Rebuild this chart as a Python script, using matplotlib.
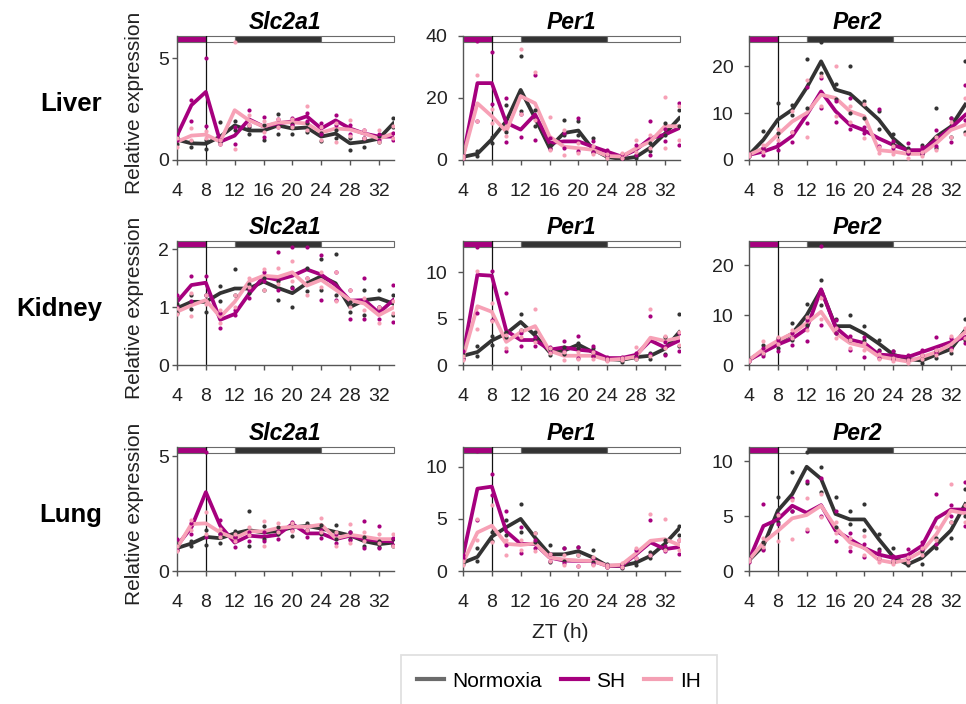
import matplotlib
matplotlib.use("Agg")
import matplotlib.pyplot as plt
from matplotlib.lines import Line2D
from matplotlib.patches import Rectangle

plt.rcParams["font.family"] = ["Liberation Sans", "DejaVu Sans"]

zt = list(range(4, 35, 2))
tissues = ["Liver", "Kidney", "Lung"]
genes = ["Slc2a1", "Per1", "Per2"]
groups = ["Normoxia", "SH", "IH"]
x_ticks = [4, 8, 12, 16, 20, 24, 28, 32]

# ---- Liver ----
liver_slc2a1_norm = [1.0, 0.82, 0.8, 1.15, 1.7, 1.45, 1.45, 1.7, 1.55, 1.6, 1.15, 1.3, 0.82, 0.9, 1.05, 1.8]
liver_slc2a1_norm_reps = [(0.8, 1.15), (0.62, 0.95), (0.55, 1.0), (0.9, 1.85), (1.5, 1.9), (1.3, 1.6), (1.0, 1.7), (1.28, 2.25),
                          (1.3, 1.75), (1.4, 1.8), (0.95, 1.35), (1.1, 1.5), (0.48, 1.1), (0.62, 1.1), (0.9, 1.2), (1.6, 2.05)]
liver_slc2a1_sh = [1.2, 2.7, 3.35, 0.9, 1.2, 2.0, 1.65, 1.8, 1.9, 2.15, 1.55, 1.95, 1.55, 1.3, 1.15, 1.15]
liver_slc2a1_sh_reps = [(1.0, 1.3), (1.9, 2.95), (1.67, 5.0), (0.8, 1.0), (0.78, 1.6), (1.7, 2.45), (1.15, 2.1), (1.6, 2.0),
                        (1.7, 2.05), (1.9, 2.3), (1.3, 1.8), (1.7, 2.2), (1.3, 1.7), (1.1, 1.5), (1.0, 1.3), (1.0, 1.35)]
liver_slc2a1_ih = [0.9, 1.2, 1.25, 0.9, 2.45, 1.95, 1.65, 1.85, 1.85, 1.8, 1.35, 1.55, 1.5, 1.3, 1.05, 1.3]
liver_slc2a1_ih_reps = [(0.65, 1.1), (1.0, 1.55), (1.1, 1.45), (0.8, 1.0), (0.52, 5.8), (1.7, 2.2), (1.4, 1.9), (1.6, 2.0),
                        (1.6, 2.0), (1.5, 2.65), (1.0, 1.6), (0.9, 1.8), (1.2, 1.95), (1.1, 1.5), (0.9, 1.5), (1.1, 1.65)]

liver_per1_norm = [1.0, 2.0, 6.7, 12.5, 22.6, 13.5, 4.0, 8.7, 9.5, 3.5, 1.0, 0.3, 1.0, 4.0, 8.5, 13.5]
liver_per1_norm_reps = [(0.8, 1.2), (1.2, 3.0), (5.5, 7.5), (9.0, 17.9), (15.8, 33.5), (11.0, 16.0), (3.8, 5.0), (8.0, 13.0),
                        (8.0, 12.5), (2.5, 7.1), (0.6, 1.5), (0.1, 0.5), (0.5, 1.5), (3.0, 5.5), (8.2, 12.0), (11.0, 16.0)]
liver_per1_sh = [1.0, 24.8, 24.8, 12.0, 9.8, 14.7, 5.5, 6.0, 6.0, 4.3, 2.7, 1.1, 3.3, 7.0, 8.2, 10.3]
liver_per1_sh_reps = [(0.8, 1.2), (12.5, 38.3), (18.0, 34.8), (5.7, 20.1), (7.4, 15.0), (6.5, 27.4), (3.5, 7.0), (4.0, 8.7),
                      (3.0, 13.4), (2.5, 6.0), (1.5, 3.3), (0.5, 1.8), (1.6, 5.0), (1.5, 12.5), (6.0, 10.0), (5.0, 18.5)]
liver_per1_ih = [1.0, 18.3, 14.1, 9.2, 20.6, 18.3, 7.6, 4.3, 3.8, 3.3, 1.3, 1.1, 3.8, 6.0, 10.9, 10.9]
liver_per1_ih_reps = [(0.8, 1.2), (12.5, 27.4), (12.0, 16.3), (7.6, 11.0), (14.7, 35.7), (13.0, 28.5), (3.3, 13.9), (1.6, 9.8),
                      (2.2, 5.4), (2.0, 4.5), (0.5, 2.0), (0.5, 2.2), (2.7, 6.5), (4.0, 8.0), (3.8, 20.4), (6.5, 17.4)]

liver_per2_norm = [1.1, 4.3, 8.6, 10.7, 15.4, 21.0, 15.0, 14.1, 11.4, 8.6, 4.6, 2.0, 1.8, 5.0, 7.1, 11.8]
liver_per2_norm_reps = [(0.9, 1.3), (2.5, 6.1), (5.7, 12.1), (9.5, 11.8), (11.1, 21.4), (18.6, 25.1), (13.0, 16.1), (10.0, 20.1),
                        (9.0, 12.5), (6.5, 10.5), (3.5, 5.5), (1.5, 2.5), (1.2, 3.2), (2.5, 11.1), (5.0, 8.9), (6.0, 21.0)]
liver_per2_sh = [1.1, 1.8, 2.9, 5.1, 9.6, 14.6, 10.4, 7.5, 6.3, 4.6, 3.2, 2.1, 2.1, 4.3, 6.8, 9.6]
liver_per2_sh_reps = [(0.9, 1.3), (1.1, 2.5), (2.2, 3.5), (3.9, 6.0), (7.9, 15.6), (11.0, 17.5), (8.0, 12.5), (6.5, 13.2),
                      (5.7, 7.0), (3.0, 10.9), (2.5, 4.0), (1.5, 3.6), (1.5, 2.7), (3.0, 6.4), (3.9, 9.0), (8.6, 15.9)]
liver_per2_ih = [1.1, 2.5, 5.4, 8.2, 10.0, 13.9, 13.2, 10.4, 9.3, 2.1, 1.8, 1.3, 1.3, 3.6, 6.4, 7.5]
liver_per2_ih_reps = [(0.9, 1.3), (1.8, 3.3), (4.3, 6.5), (6.0, 10.4), (5.0, 17.1), (11.4, 17.9), (9.3, 20.1), (8.0, 11.4),
                      (4.6, 12.0), (1.5, 2.8), (1.2, 2.9), (0.4, 2.0), (0.8, 1.8), (2.1, 5.0), (5.0, 8.0), (5.5, 13.2)]

# ---- Kidney ----
kidney_slc2a1_norm = [0.98, 1.09, 1.09, 1.24, 1.32, 1.32, 1.44, 1.33, 1.24, 1.41, 1.53, 1.41, 1.0, 1.12, 1.15, 1.06]
kidney_slc2a1_norm_reps = [(0.9, 1.05), (0.96, 1.2), (0.92, 1.2), (1.1, 1.37), (1.2, 1.65), (1.25, 1.4), (1.3, 1.5), (1.12, 1.45),
                           (1.0, 1.35), (1.27, 1.67), (1.3, 1.83), (1.2, 1.91), (0.92, 1.08), (0.86, 1.3), (1.0, 1.3), (0.86, 1.2)]
kidney_slc2a1_sh = [1.09, 1.38, 1.42, 0.78, 0.88, 1.23, 1.52, 1.47, 1.54, 1.65, 1.56, 1.38, 1.11, 1.12, 0.9, 1.12]
kidney_slc2a1_sh_reps = [(1.0, 1.21), (1.1, 1.54), (1.2, 1.54), (0.63, 0.9), (0.86, 0.95), (1.15, 1.3), (1.45, 1.6), (1.3, 1.95),
                         (1.33, 2.04), (1.5, 2.04), (1.12, 1.89), (1.12, 1.6), (0.8, 1.3), (0.8, 1.5), (0.8, 1.0), (0.74, 1.38)]
kidney_slc2a1_ih = [0.92, 1.03, 1.12, 0.83, 1.09, 1.44, 1.54, 1.52, 1.6, 1.37, 1.47, 1.3, 1.12, 1.06, 0.86, 0.99]
kidney_slc2a1_ih_reps = [(0.88, 0.98), (0.84, 1.25), (1.05, 1.2), (0.72, 0.95), (1.0, 1.2), (1.35, 1.5), (1.3, 1.66), (1.4, 1.67),
                         (1.45, 1.79), (1.2, 1.5), (1.35, 1.6), (1.1, 1.6), (1.0, 1.3), (0.95, 1.15), (0.72, 1.0), (0.9, 1.1)]

kidney_per1_norm = [1.0, 1.4, 2.65, 3.4, 4.65, 3.2, 1.4, 1.55, 2.2, 1.4, 0.65, 0.55, 0.85, 1.0, 1.75, 3.55]
kidney_per1_norm_reps = [(0.8, 1.2), (1.0, 2.05), (2.2, 3.1), (3.0, 3.55), (3.8, 5.55), (2.8, 3.6), (1.1, 1.7), (1.2, 1.9),
                         (1.8, 2.35), (1.0, 1.8), (0.5, 0.8), (0.3, 0.8), (0.7, 1.0), (0.7, 1.3), (1.2, 3.0), (2.0, 5.5)]
kidney_per1_sh = [1.0, 9.75, 9.65, 3.7, 2.7, 2.7, 1.65, 1.9, 1.65, 1.5, 0.75, 0.75, 1.1, 2.65, 1.9, 2.65]
kidney_per1_sh_reps = [(0.6, 1.55), (5.65, 12.8), (4.85, 10.2), (1.5, 7.75), (2.05, 3.5), (2.1, 3.0), (1.4, 1.9), (1.5, 2.55),
                       (0.8, 3.1), (1.0, 2.1), (0.6, 0.9), (0.6, 0.9), (0.9, 1.3), (1.2, 5.25), (1.1, 2.5), (1.55, 3.5)]
kidney_per1_ih = [0.8, 6.35, 5.75, 2.5, 3.55, 4.2, 1.55, 1.0, 1.0, 1.0, 0.55, 0.65, 0.9, 2.95, 2.6, 2.95]
kidney_per1_ih_reps = [(0.5, 1.0), (3.9, 10.2), (4.8, 6.65), (1.8, 3.2), (3.0, 3.75), (2.5, 6.1), (1.3, 1.8), (0.55, 1.4),
                       (0.6, 1.4), (0.6, 1.4), (0.4, 0.7), (0.5, 0.8), (0.6, 1.9), (1.0, 6.1), (1.8, 3.1), (2.2, 3.6)]

kidney_per2_norm = [1.0, 2.9, 4.6, 6.3, 10.0, 15.1, 7.8, 7.8, 6.3, 4.3, 2.1, 1.2, 0.9, 2.1, 3.2, 7.0]
kidney_per2_norm_reps = [(0.9, 1.1), (2.3, 4.0), (3.5, 5.5), (5.0, 8.4), (8.0, 12.2), (12.0, 17.0), (6.5, 9.3), (5.0, 10.0),
                         (5.0, 7.8), (3.0, 5.0), (1.5, 2.8), (1.0, 1.5), (0.5, 1.2), (1.5, 2.8), (2.5, 3.5), (5.0, 9.3)]
kidney_per2_sh = [1.0, 2.6, 4.1, 5.3, 7.3, 15.2, 7.6, 5.1, 4.4, 2.1, 1.9, 1.6, 2.6, 3.6, 4.6, 5.6]
kidney_per2_sh_reps = [(0.9, 1.1), (1.9, 3.5), (2.9, 5.0), (4.1, 6.5), (4.9, 9.0), (8.0, 23.9), (6.5, 9.0), (3.0, 5.9),
                       (1.7, 5.6), (1.5, 2.8), (1.2, 2.9), (1.2, 2.0), (2.0, 3.0), (2.5, 5.6), (3.5, 5.5), (4.5, 5.7)]
kidney_per2_ih = [1.0, 3.2, 4.9, 6.3, 8.4, 10.7, 6.4, 4.4, 3.7, 1.7, 1.2, 0.7, 1.6, 2.6, 4.1, 6.6]
kidney_per2_ih_reps = [(0.9, 1.1), (2.5, 4.9), (4.2, 5.6), (5.5, 7.0), (7.0, 9.7), (9.3, 13.4), (5.5, 7.5), (3.5, 5.0),
                       (3.0, 4.5), (1.2, 2.2), (0.9, 1.5), (0.5, 1.0), (1.2, 2.0), (2.0, 3.0), (3.0, 5.9), (5.5, 7.5)]

# ---- Lung ----
lung_slc2a1_norm = [1.0, 1.2, 1.49, 1.43, 1.64, 1.78, 1.68, 1.75, 1.9, 1.97, 1.85, 1.7, 1.55, 1.3, 1.17, 1.24]
lung_slc2a1_norm_reps = [(0.9, 1.1), (1.1, 1.3), (1.14, 1.78), (1.24, 1.6), (1.5, 1.75), (1.1, 2.6), (1.4, 1.97), (1.6, 1.9),
                         (1.54, 2.1), (1.8, 2.1), (1.6, 2.0), (1.4, 2.02), (1.4, 1.68), (1.1, 1.5), (1.05, 1.3), (1.1, 1.4)]
lung_slc2a1_sh = [1.1, 1.9, 3.44, 1.97, 1.24, 1.54, 1.49, 1.58, 2.05, 1.64, 1.64, 1.39, 1.54, 1.39, 1.32, 1.29]
lung_slc2a1_sh_reps = [(0.9, 1.39), (1.6, 2.1), (1.5, 5.19), (1.6, 2.22), (1.05, 1.5), (1.3, 1.7), (1.3, 1.7), (1.4, 1.75),
                       (1.8, 2.12), (1.5, 1.8), (1.45, 1.8), (1.2, 1.6), (1.35, 1.7), (1.02, 2.19), (1.0, 1.97), (1.15, 1.45)]
lung_slc2a1_ih = [1.0, 2.05, 2.08, 1.68, 1.43, 1.73, 1.73, 1.87, 1.93, 1.93, 2.02, 1.43, 1.58, 1.49, 1.39, 1.39]
lung_slc2a1_ih_reps = [(0.88, 1.1), (1.8, 2.22), (1.6, 2.56), (1.5, 1.85), (1.3, 1.6), (1.55, 1.9), (1.1, 2.19), (1.7, 2.08),
                       (1.75, 2.1), (1.8, 1.97), (1.7, 2.31), (1.1, 1.7), (1.24, 2.05), (1.3, 1.68), (1.2, 1.6), (1.1, 1.6)]

lung_per1_norm = [0.8, 1.35, 3.3, 4.2, 5.0, 3.2, 1.6, 1.6, 1.9, 1.3, 0.5, 0.5, 0.8, 1.45, 2.6, 4.1]
lung_per1_norm_reps = [(0.7, 1.0), (0.97, 2.25), (2.9, 3.7), (3.5, 4.85), (3.7, 6.45), (2.8, 3.6), (0.9, 2.5), (1.0, 2.25),
                       (1.5, 2.3), (0.9, 2.0), (0.4, 0.7), (0.3, 0.7), (0.6, 1.0), (1.2, 1.8), (2.2, 3.0), (3.5, 4.35)]
lung_per1_sh = [1.45, 7.9, 8.1, 3.8, 2.6, 2.6, 1.3, 1.0, 0.97, 0.97, 0.5, 0.5, 1.6, 2.75, 2.1, 2.3]
lung_per1_sh_reps = [(1.2, 1.55), (4.85, 11.5), (7.25, 9.3), (2.5, 5.75), (1.7, 4.2), (2.2, 3.0), (1.0, 1.6), (0.8, 2.2),
                     (0.5, 2.3), (0.7, 1.2), (0.4, 0.6), (0.4, 0.6), (1.2, 2.0), (1.5, 4.9), (1.9, 2.4), (1.6, 3.0)]
lung_per1_ih = [0.8, 3.7, 4.35, 2.6, 2.5, 2.65, 1.3, 1.1, 1.0, 0.97, 0.5, 0.6, 1.7, 2.9, 3.05, 2.5]
lung_per1_ih_reps = [(0.6, 1.0), (3.0, 5.0), (2.8, 6.3), (1.55, 3.0), (2.0, 3.0), (1.9, 3.6), (1.0, 1.6), (0.6, 1.5),
                     (0.5, 1.5), (0.6, 1.3), (0.4, 0.6), (0.4, 0.8), (1.2, 2.25), (1.5, 5.5), (2.0, 5.0), (2.0, 3.0)]

lung_per2_norm = [0.98, 2.3, 5.5, 7.0, 9.5, 8.4, 5.2, 4.7, 4.7, 2.9, 1.3, 0.6, 1.2, 2.4, 3.7, 6.1]
lung_per2_norm_reps = [(0.9, 1.1), (2.0, 2.6), (4.5, 6.7), (5.5, 9.0), (8.0, 10.8), (7.2, 9.5), (4.0, 6.7), (4.25, 5.5),
                       (3.7, 6.1), (2.0, 3.35), (0.8, 2.1), (0.55, 0.8), (0.6, 1.8), (2.1, 3.0), (3.05, 4.5), (5.0, 7.45)]
lung_per2_sh = [1.0, 4.1, 4.7, 5.95, 5.3, 6.0, 3.7, 2.9, 2.1, 1.5, 1.2, 1.45, 2.3, 4.8, 5.6, 5.6]
lung_per2_sh_reps = [(0.85, 1.1), (1.9, 6.1), (4.25, 5.2), (5.5, 6.65), (3.65, 8.2), (5.0, 8.5), (2.75, 5.5), (1.8, 3.5),
                     (1.3, 2.5), (1.2, 1.8), (1.0, 1.4), (1.2, 2.05), (2.0, 2.6), (2.5, 7.0), (5.0, 6.0), (4.1, 8.1)]
lung_per2_ih = [1.0, 2.6, 3.65, 4.8, 5.1, 5.95, 4.0, 2.6, 2.1, 1.0, 0.75, 1.05, 1.8, 3.35, 5.5, 5.25]
lung_per2_ih_reps = [(0.9, 1.1), (2.2, 3.0), (2.75, 5.1), (2.9, 6.5), (3.8, 6.65), (4.9, 7.0), (3.5, 4.5), (2.2, 3.0),
                     (1.5, 3.2), (0.8, 1.2), (0.6, 0.9), (0.8, 1.3), (1.5, 2.1), (2.8, 4.0), (4.5, 7.9), (4.5, 6.0)]

panels = {
    ("Liver", "Slc2a1"): [(liver_slc2a1_norm, liver_slc2a1_norm_reps), (liver_slc2a1_sh, liver_slc2a1_sh_reps), (liver_slc2a1_ih, liver_slc2a1_ih_reps)],
    ("Liver", "Per1"): [(liver_per1_norm, liver_per1_norm_reps), (liver_per1_sh, liver_per1_sh_reps), (liver_per1_ih, liver_per1_ih_reps)],
    ("Liver", "Per2"): [(liver_per2_norm, liver_per2_norm_reps), (liver_per2_sh, liver_per2_sh_reps), (liver_per2_ih, liver_per2_ih_reps)],
    ("Kidney", "Slc2a1"): [(kidney_slc2a1_norm, kidney_slc2a1_norm_reps), (kidney_slc2a1_sh, kidney_slc2a1_sh_reps), (kidney_slc2a1_ih, kidney_slc2a1_ih_reps)],
    ("Kidney", "Per1"): [(kidney_per1_norm, kidney_per1_norm_reps), (kidney_per1_sh, kidney_per1_sh_reps), (kidney_per1_ih, kidney_per1_ih_reps)],
    ("Kidney", "Per2"): [(kidney_per2_norm, kidney_per2_norm_reps), (kidney_per2_sh, kidney_per2_sh_reps), (kidney_per2_ih, kidney_per2_ih_reps)],
    ("Lung", "Slc2a1"): [(lung_slc2a1_norm, lung_slc2a1_norm_reps), (lung_slc2a1_sh, lung_slc2a1_sh_reps), (lung_slc2a1_ih, lung_slc2a1_ih_reps)],
    ("Lung", "Per1"): [(lung_per1_norm, lung_per1_norm_reps), (lung_per1_sh, lung_per1_sh_reps), (lung_per1_ih, lung_per1_ih_reps)],
    ("Lung", "Per2"): [(lung_per2_norm, lung_per2_norm_reps), (lung_per2_sh, lung_per2_sh_reps), (lung_per2_ih, lung_per2_ih_reps)],
}

# y-axis top and ticks per panel
y_top = {("Liver", "Slc2a1"): 6.1, ("Liver", "Per1"): 40, ("Liver", "Per2"): 26.4,
         ("Kidney", "Slc2a1"): 2.14, ("Kidney", "Per1"): 13.4, ("Kidney", "Per2"): 24.9,
         ("Lung", "Slc2a1"): 5.41, ("Lung", "Per1"): 11.9, ("Lung", "Per2"): 11.3}
y_ticks = {("Liver", "Slc2a1"): [0, 5], ("Liver", "Per1"): [0, 20, 40], ("Liver", "Per2"): [0, 10, 20],
           ("Kidney", "Slc2a1"): [0, 1, 2], ("Kidney", "Per1"): [0, 5, 10], ("Kidney", "Per2"): [0, 10, 20],
           ("Lung", "Slc2a1"): [0, 5], ("Lung", "Per1"): [0, 5, 10], ("Lung", "Per2"): [0, 5, 10]}

colors = {"Normoxia": "#333333", "SH": "#a6007e", "IH": "#f7a1b6"}
legend_colors = {"Normoxia": "#6b6b6b", "SH": "#a6007e", "IH": "#f4a0b4"}
# light/dark schedule bar: (start, end, colour)
schedule = [(4, 8, "#a6007e"), (8, 12, "white"), (12, 24, "#333333"), (24, 34.1, "white")]

W, H = 966, 704
col_left = [177, 463, 749]
row_top = [36, 241, 447]
ax_w, ax_h = 217, 124


def main():
    fig = plt.figure(figsize=(W / 100, H / 100), dpi=100)

    for r, tissue in enumerate(tissues):
        for c, gene in enumerate(genes):
            key = (tissue, gene)
            ax = fig.add_axes([col_left[c] / W, 1 - (row_top[r] + ax_h) / H, ax_w / W, ax_h / H])

            for (mean, reps), grp in zip(panels[key], groups):
                ax.plot(zt, mean, color=colors[grp], lw=2.7, zorder=2)
                xs = [t for t, pr in zip(zt, reps) for _ in pr]
                ys = [v for pr in reps for v in pr]
                ax.scatter(xs, ys, s=9, color=colors[grp], lw=0, zorder=3)

            for start, end, fc in schedule:
                ax.add_patch(Rectangle((start, 0.949), end - start, 0.051, transform=ax.get_xaxis_transform(),
                                       facecolor=fc, edgecolor="#6a6a6a", lw=0.8, zorder=1, clip_on=False))
            ax.axvline(8, color="#111111", lw=0.9, zorder=1.5)

            ax.set_xlim(4, 34.1)
            ax.set_ylim(0, y_top[key])
            ax.set_xticks(x_ticks)
            ax.set_yticks(y_ticks[key])
            for side in ["top", "right"]:
                ax.spines[side].set_visible(False)
            for side in ["left", "bottom"]:
                ax.spines[side].set_color("#555555")
                ax.spines[side].set_linewidth(1.0)
            ax.tick_params(axis="x", length=3.6, width=1.0, color="#555555", labelsize=14,
                           pad=13, labelcolor="#222222")
            ax.tick_params(axis="y", length=3.6, width=1.0, color="#555555", labelsize=14,
                           pad=2 if c == 0 else 7.5, labelcolor="#222222")
            ax.set_title(gene, fontsize=16.5, fontweight="bold", fontstyle="italic", pad=5)

            if c == 0:
                ax.set_ylabel("Relative expression", fontsize=15, color="#222222")
                ax.yaxis.set_label_coords(-0.152, 0.46)
                fig.text(102 / W, 1 - (row_top[r] + ax_h / 2 + 6) / H, tissue, ha="right", va="center",
                         fontsize=18.5, fontweight="bold")

    fig.text(560 / W, 1 - 632 / H, "ZT (h)", ha="center", va="center", fontsize=15, color="#222222")

    handles = [Line2D([], [], color=legend_colors[g], lw=3) for g in groups]
    leg = fig.legend(handles, groups, loc="upper center", bbox_to_anchor=(559 / W, 1 - 655 / H), ncol=3,
                     fontsize=15, frameon=True, fancybox=False, edgecolor="#d9d9d9", handlelength=1.3,
                     handletextpad=0.4, columnspacing=0.9, borderpad=0.8, borderaxespad=0)
    leg.get_frame().set_linewidth(1.3)

    fig.savefig("out.png", dpi=100)


if __name__ == "__main__":
    main()
